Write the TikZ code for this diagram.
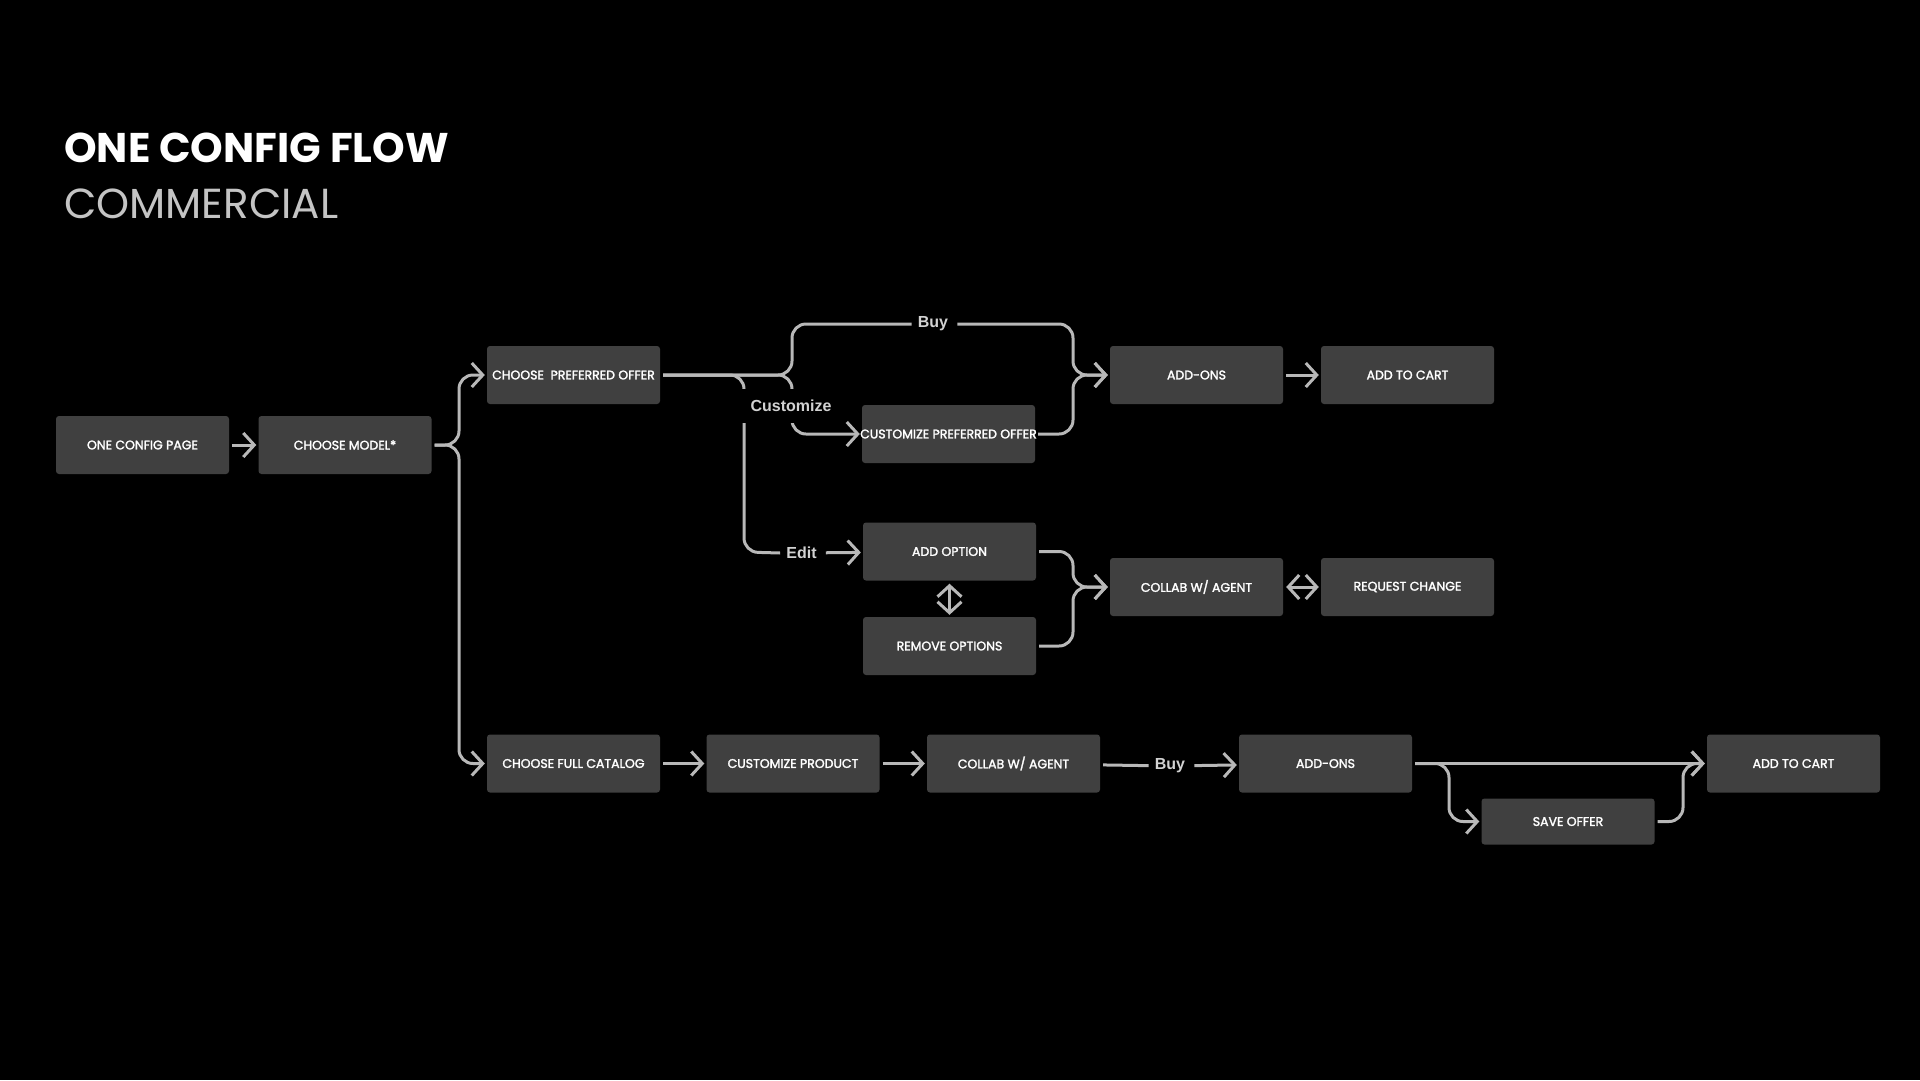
\documentclass[tikz,border=0pt]{standalone}
\usepackage{fontspec}
\setmainfont{Poppins}
\newfontfamily\boxfont{Poppins}[FakeBold=2]
\newfontfamily\labfont{Liberation Sans}
\usetikzlibrary{arrows.meta}

\definecolor{boxgray}{HTML}{404040}
\definecolor{linegray}{HTML}{B8B8B8}
\definecolor{labgray}{HTML}{D2D2D2}
\definecolor{subgray}{HTML}{C4C4C4}

\tikzset{
  box/.style={fill=boxgray, rounded corners=3pt, minimum width=173pt, minimum height=58pt,
    inner sep=0pt, text=white, font=\boxfont\fontsize{12.5}{14}\selectfont},
  plain/.style={draw=linegray, line width=3pt, rounded corners=14pt, shorten <=3pt},
  flow/.style={plain, -{Straight Barb[length=11pt,width=24pt]}, shorten >=2pt},
  both/.style={flow, {Straight Barb[length=11pt,width=24pt]}-{Straight Barb[length=11pt,width=24pt]}},
  choice/.style={text=labgray, font=\labfont\bfseries\fontsize{16}{18}\selectfont, inner xsep=6pt, inner ysep=3pt},
}

\begin{document}
\begin{tikzpicture}[x=1pt,y=1pt]
  \fill[black] (0,0) rectangle (1920,-1080);
  \useasboundingbox (0,0) rectangle (1920,-1080);

  % title
  \node[anchor=base west, inner sep=0pt, text=white, font=\bfseries\fontsize{41.5}{48}\selectfont] (title) at (64,-162) {ONE CONFIG FLOW};
  \node[anchor=base west, inner sep=0pt, text=subgray, font=\fontsize{42}{48}\selectfont] (subtitle) at (64,-218) {COMMERCIAL};

  % boxes
  \node[box] (page) at (142.5,-445) {ONE CONFIG PAGE};
  \node[box] (model) at (345,-445) {CHOOSE MODEL*};
  \node[box] (pref) at (573.5,-375) {CHOOSE\ \ PREFERRED OFFER};
  \node[box] (cpref) at (948.5,-434) {\makebox[173pt][c]{CUSTOMIZE PREFERRED OFFER}};
  \node[box] (addons) at (1196.5,-375) {ADD-ONS};
  \node[box] (cart) at (1407.5,-375) {ADD TO CART};
  \node[box] (addopt) at (949.5,-551.5) {ADD OPTION};
  \node[box] (remopt) at (949.5,-646) {REMOVE OPTIONS};
  \node[box] (agent) at (1196.5,-587) {COLLAB W/ AGENT};
  \node[box] (change) at (1407.5,-587) {REQUEST CHANGE};
  \node[box] (catalog) at (573.5,-763.5) {CHOOSE FULL CATALOG};
  \node[box] (product) at (793,-763.5) {CUSTOMIZE PRODUCT};
  \node[box] (agent2) at (1013.5,-763.5) {COLLAB W/ AGENT};
  \node[box] (addons2) at (1325.5,-763.5) {ADD-ONS};
  \node[box] (cart2) at (1793.5,-763.5) {ADD TO CART};
  \node[box, minimum height=46pt] (save) at (1568,-821.5) {SAVE OFFER};

  % choice labels
  \node[choice] (buy) at (933,-324) {Buy};
  \node[choice] (edit) at (801.5,-553) {Edit};
  \node[choice] (buy2) at (1170,-766) {Buy};

  % start
  \draw[flow] (page) -- (model);
  \draw[flow] (model.east) -| (459,-375) -- (pref.west);
  \draw[flow] (model.east) -| (459,-763.5) -- (catalog.west);

  % preferred offer
  \draw[plain] (pref.east) -- (792,-375) |- (buy.west);
  \draw[flow] (pref.east) -- (792,-375) |- (cpref.west);
  \draw[plain] (pref.east) -| (744,-552) -- (edit.west);
  \draw[flow] (buy.east) -| (1073,-375) -- (addons.west);
  \draw[flow] (cpref.east) -| (1073,-375) -- (addons.west);
  \draw[flow] (addons) -- (cart);
  \draw[flow] (edit) -- (addopt);
  \draw[both] (addopt) -- (remopt);
  \draw[flow] (addopt.east) -| (1073,-587) -- (agent.west);
  \draw[flow] (remopt.east) -| (1073,-587) -- (agent.west);
  \draw[both] (agent) -- (change);
  \node[choice, fill=black, inner xsep=10pt, inner ysep=11pt] (customize) at (791,-406) {Customize};

  % full catalog
  \draw[flow] (catalog) -- (product);
  \draw[flow] (product) -- (agent2);
  \draw[plain] (agent2) -- (buy2);
  \draw[flow] (buy2) -- (addons2);
  \draw[flow] (addons2) -- (cart2);
  \draw[flow] (addons2.east) -| (1449,-821.5) -- (save.west);
  \draw[flow] (save.east) -| (1683,-763.5) -- (cart2.west);
\end{tikzpicture}
\end{document}
